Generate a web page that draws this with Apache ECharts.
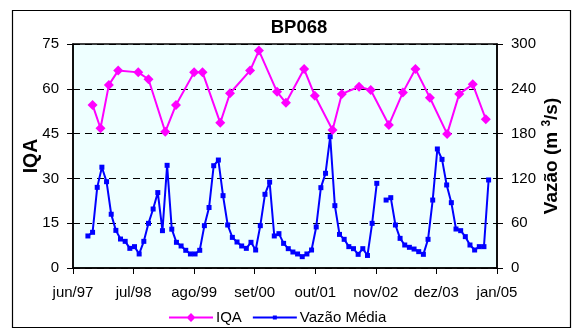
<!DOCTYPE html>
<html><head><meta charset="utf-8">
<script src="https://cdn.jsdelivr.net/npm/echarts@6/dist/echarts.min.js"></script>
<style>html,body{margin:0;padding:0;background:#fff}#c{width:574px;height:330px}</style>
</head><body><div id="c"></div>
<script>
// X axis tick labels (every 13 months starting jun/97)
const xTickLabels = ['jun/97','jul/98','ago/99','set/00','out/01','nov/02','dez/03','jan/05'];
// IQA sampling dates and values
const iqaDates = ['1997-10-07','1997-11-28','1998-01-22','1998-03-22','1998-08-01','1998-10-07',
  '1999-01-25','1999-04-04','1999-08-01','1999-09-25','2000-01-19','2000-03-22','2000-08-01',
  '2000-09-28','2001-01-25','2001-03-22','2001-07-19','2001-09-28','2002-01-22','2002-03-22',
  '2002-07-13','2002-09-28','2003-01-25','2003-04-25','2003-07-16','2003-10-19','2004-02-10',
  '2004-04-28','2004-07-25','2004-10-19'];
const iqaValues = [54.6,46.8,61.3,66.1,65.5,63.2,45.6,54.6,65.5,65.5,48.6,58.5,66.1,72.8,
  59.0,55.3,66.6,57.7,46.2,58.3,60.7,59.6,47.9,58.8,66.6,57.0,44.9,58.3,61.5,49.8];
// Monthly mean flow (m3/s), first month sep/97
const vazaoStart = '1997-09-07';
const vazaoValues = [42.9,47.8,108,135,115.6,72,50.4,38.8,35.7,26.3,28.6,18.8,35.7,59.8,79,101,
  50,137.5,52,34.4,29.5,23.7,18.8,18.8,23.7,56.7,81,137,144.6,96.9,57.6,41,34.8,29.5,26.3,34.4,
  24.1,56.7,98.7,115,42.9,46,33,25.9,21.4,18.8,15.2,18.8,24.1,55,107.6,126.8,175.9,83.5,45,38.4,
  28.6,25.9,18.3,25.9,16.8,59.8,113.4,null,91,94.2,57.6,39.7,30.8,27.7,25.4,21.9,18.3,38.4,91,
  159.4,145.5,111.2,87.5,52.2,50,42,30.8,24.1,28.6,28.6,117.9];

function monthIndex(s){
  const [y,m,d] = s.split('-').map(Number);
  return (y-1997)*12 + (m-1) - 5 + (d-1)/30;
}
const iqaData = iqaDates.map((d,i)=>[monthIndex(d), iqaValues[i]]);
const v0 = monthIndex(vazaoStart);
const vazaoData = vazaoValues.map((v,i)=>[v0+i, v]);

// legend icons: line with a small marker (tiny corner specks fix the bounding box)
const bbox = 'M0,0 L0.01,0 L0,0.01 Z M44,10 L43.99,10 L44,9.99 Z ';
const iconIQA = 'path://' + bbox + 'M0,4 L44,4 L44,6 L0,6 Z M22,0.5 L26.5,5 L22,9.5 L17.5,5 Z';
const iconVaz = 'path://' + bbox + 'M0,4 L44,4 L44,6 L0,6 Z M20,3 L24,3 L24,7 L20,7 Z';

const font = 'Liberation Sans, Arial, sans-serif';
const chart = echarts.init(document.getElementById('c'), null, {renderer:'canvas'});
chart.setOption({
  animation:false,
  backgroundColor:'#fff',
  title:{text:'BP068', left:294, top:13, textAlign:'center',
    textStyle:{fontFamily:font, fontWeight:'bold', fontSize:18.5, color:'#000'}},
  graphic:[{type:'rect', shape:{x:12.5,y:10.5,width:558,height:317},
    style:{fill:'none', stroke:'#000', lineWidth:1.2}, silent:true, z:-1}],
  grid:{left:73, right:77, top:44, bottom:62, show:true, backgroundColor:'#EEFFFF',
    borderColor:'#000', borderWidth:1.5},
  legend:{top:305, left:164, itemWidth:44, itemHeight:10, itemGap:11,
    textStyle:{fontFamily:font, fontSize:15, color:'#000', padding:[0,0,0,-2]},
    data:[{name:'IQA', icon:iconIQA, itemStyle:{color:'#FF00FF', borderWidth:0}},
          {name:'Vazão Média', icon:iconVaz, itemStyle:{color:'#0000FF', borderWidth:0}}]},
  xAxis:{type:'value', min:0, max:91, interval:13,
    axisLine:{lineStyle:{color:'#000', width:1.5}},
    axisTick:{show:true, length:6, lineStyle:{color:'#000'}},
    splitLine:{show:false},
    axisLabel:{fontFamily:font, fontSize:15, color:'#000', margin:17,
      formatter:v=>xTickLabels[Math.round(v/13)]}},
  yAxis:[
    {type:'value', min:0, max:75, interval:15, name:'IQA', nameLocation:'middle', nameGap:31,
      nameRotate:90, nameMoveOverlap:false,
      nameTextStyle:{fontFamily:font, fontWeight:'bold', fontSize:19.5, color:'#000'},
      axisLine:{show:true, lineStyle:{color:'#000', width:1.5}},
      axisTick:{show:true, length:6, lineStyle:{color:'#000'}},
      axisLabel:{fontFamily:font, fontSize:15, color:'#000', margin:14},
      splitLine:{show:true, lineStyle:{color:'#000', type:[7,5], width:1}}},
    {type:'value', min:0, max:300, interval:60, position:'right', name:'Vazão (m {sup|3}/s)',
      nameLocation:'middle', nameGap:44, nameRotate:90, nameMoveOverlap:false,
      nameTextStyle:{fontFamily:font, fontWeight:'bold', fontSize:19, color:'#000',
        rich:{sup:{fontFamily:font, fontWeight:'bold', fontSize:12, color:'#000',
          verticalAlign:'top', lineHeight:22}}},
      axisLine:{show:true, lineStyle:{color:'#000', width:1.5}},
      axisTick:{show:true, length:6, lineStyle:{color:'#000'}},
      axisLabel:{fontFamily:font, fontSize:15, color:'#000', margin:14},
      splitLine:{show:false}}
  ],
  series:[
    {name:'IQA', type:'line', yAxisIndex:0, data:iqaData, symbol:'diamond', symbolSize:10,
      lineStyle:{color:'#FF00FF', width:2}, itemStyle:{color:'#FF00FF'}, z:3},
    {name:'Vazão Média', type:'line', yAxisIndex:1, data:vazaoData, symbol:'rect', symbolSize:5,
      connectNulls:false,
      lineStyle:{color:'#0000FF', width:2}, itemStyle:{color:'#0000FF'}, z:2}
  ]
});
</script></body></html>
